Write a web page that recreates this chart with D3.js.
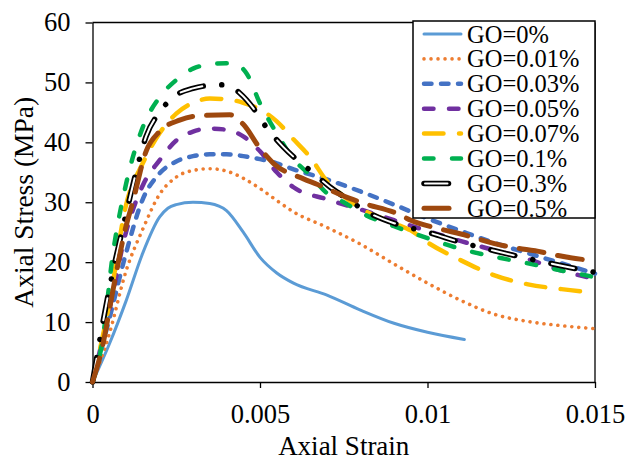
<!DOCTYPE html>
<html>
<head>
<meta charset="utf-8">
<script src="https://cdn.jsdelivr.net/npm/d3@7"></script>
<style>
html,body{margin:0;padding:0;background:#fff;}
svg{display:block;}
</style>
</head>
<body>
<svg id="chart" width="628" height="461"></svg>
<script>
// ---- data (strain, stress MPa) ----
const seriesNames = ["GO=0%","GO=0.01%","GO=0.03%","GO=0.05%","GO=0.07%","GO=0.1%","GO=0.3%","GO=0.5%"];
const go0 = [[0,0],[0.0005,6.3],[0.001,13.5],[0.0015,21.5],[0.002,27.5],[0.00225,29],[0.0025,29.6],[0.003,30],[0.0035,29.8],[0.004,28.6],[0.0045,25],[0.005,20.8],[0.0055,18.2],[0.006,16.5],[0.007,14.5],[0.008,12],[0.009,9.8],[0.010,8.3],[0.0111,7.1]];
const go001 = [[0,0],[0.0005,8],[0.001,18.5],[0.0015,25.5],[0.002,31.3],[0.0025,34.2],[0.003,35.3],[0.0035,35.6],[0.004,35.2],[0.0045,34],[0.005,32.3],[0.0055,30.3],[0.006,28.4],[0.007,25.8],[0.008,23],[0.009,19.7],[0.010,16.5],[0.011,13.6],[0.012,11.3],[0.013,10.1],[0.014,9.4],[0.015,8.9]];
const go003 = [[0,0],[0.0005,10.5],[0.001,21.5],[0.0015,30.5],[0.002,34.8],[0.0025,36.8],[0.003,37.7],[0.0035,38],[0.004,38],[0.0045,37.7],[0.005,37.2],[0.0055,36.5],[0.006,35.5],[0.007,33.8],[0.008,31.8],[0.009,29.6],[0.010,27.3],[0.011,25.2],[0.012,23.2],[0.013,21.5],[0.014,19.8],[0.015,18.1]];
const go005 = [[0,0],[0.0005,12],[0.001,25],[0.0015,32.8],[0.002,37],[0.0025,40.3],[0.003,41.8],[0.0035,42.3],[0.004,42.1],[0.0045,41],[0.005,38.5],[0.0055,35],[0.006,32.5],[0.007,30.5],[0.008,28.8],[0.009,27],[0.010,25.2],[0.011,23.5],[0.012,22],[0.013,20.5],[0.014,18.6],[0.015,17.2]];
const go007 = [[0,0],[0.0005,13],[0.001,29.5],[0.0015,36.5],[0.002,41.5],[0.0025,44.8],[0.003,46.6],[0.0035,47.3],[0.004,47.2],[0.0045,46.6],[0.005,45.5],[0.0055,43.5],[0.006,40.5],[0.0065,37.5],[0.007,33.5],[0.0075,31],[0.008,29],[0.009,26.5],[0.0095,25.3],[0.010,23.3],[0.011,20.3],[0.012,17.8],[0.013,16.3],[0.014,15.5],[0.015,14.9]];
const go01 = [[0,0],[0.0003,7],[0.0006,21],[0.001,33],[0.0015,42.5],[0.002,47.5],[0.0025,50.4],[0.003,52.3],[0.0035,53],[0.004,53.2],[0.0043,53],[0.0046,51.5],[0.005,46.5],[0.0055,41.5],[0.006,37.2],[0.0065,34.5],[0.007,31.5],[0.0075,30],[0.008,28.3],[0.009,26],[0.010,24],[0.011,22.2],[0.012,20.9],[0.013,19.8],[0.014,18.6],[0.015,17.5]];
const go03 = [[0,0],[0.0005,15.5],[0.001,28],[0.0013,35],[0.0016,41],[0.002,45],[0.0025,47.9],[0.003,49],[0.0035,49.5],[0.004,49.6],[0.0044,48.2],[0.0048,45.7],[0.0051,43.2],[0.0057,39.2],[0.0061,37.1],[0.0065,35.3],[0.0071,32.5],[0.0077,30.2],[0.0081,28.7],[0.009,26.5],[0.0095,25.7],[0.010,25],[0.011,23.3],[0.012,21.9],[0.013,20.6],[0.0135,20],[0.014,19.4],[0.015,18.3]];
const go05 = [[0,0],[0.0003,6],[0.0006,15],[0.001,26],[0.0012,30],[0.0016,38.5],[0.002,41.8],[0.0026,43.7],[0.0031,44.4],[0.0041,44.6],[0.0045,43],[0.005,39],[0.0054,36.5],[0.0063,33.9],[0.0067,33],[0.0077,30.6],[0.0081,29.8],[0.0091,28.1],[0.0095,27],[0.0104,25.5],[0.011,24.7],[0.012,23.1],[0.0125,22.5],[0.0134,21.7],[0.0139,21.1],[0.015,20.2]];
const seriesData = [go0, go001, go003, go005, go007, go01, go03, go05];
const xTicks = [0, 0.005, 0.01, 0.015];
const xTickLabels = ["0", "0.005", "0.01", "0.015"];
const yTicks = [0, 10, 20, 30, 40, 50, 60];

// ---- styles ----
const styles = [
  {color:"#5b9bd5", width:3,   dash:null,                  cap:"round"},
  {color:"#ed7d31", width:3.6, dash:"0.01 7",             cap:"round"},
  {color:"#4472c4", width:4.5, dash:"7.5 9.5",            cap:"round"},
  {color:"#7030a0", width:4.5, dash:"9.5 15.5",           cap:"round"},
  {color:"#ffc000", width:4.5, dash:"19.5 15.5",          cap:"round"},
  {color:"#00b050", width:4.5, dash:"9.5 18.5",           cap:"round"},
  {color:"#000000", width:5.5, dash:"24.5 18.5 0.01 18.5",cap:"round", outline:true},
  {color:"#9e480e", width:5,   dash:"25 14",              cap:"round"}
];
const FONT = "'Liberation Serif', 'Times New Roman', serif";

const svg = d3.select("#chart");
const mLeft = 92.5, mRight = 595, mTop = 22.5, mBottom = 382;
const x = d3.scaleLinear().domain([0, 0.015]).range([mLeft, mRight]);
const y = d3.scaleLinear().domain([0, 60]).range([mBottom, mTop]);

// frame
svg.append("line").attr("x1", mLeft).attr("x2", mRight).attr("y1", mTop).attr("y2", mTop).attr("stroke","#000").attr("stroke-width",1.3);
svg.append("line").attr("x1", mRight).attr("x2", mRight).attr("y1", mTop).attr("y2", mBottom).attr("stroke","#000").attr("stroke-width",1.3);

// axes
const xAxis = d3.axisBottom(x).tickValues(xTicks).tickFormat((d,i)=>xTickLabels[i]).tickSize(6).tickSizeOuter(0);
const gx = svg.append("g").attr("transform", `translate(0,${mBottom})`).call(xAxis);
gx.selectAll("text").attr("y", 22).attr("dy", "0.71em");
const yAxis = d3.axisLeft(y).tickValues(yTicks).tickFormat(d3.format("d")).tickSize(7).tickSizeOuter(0);
const gy = svg.append("g").attr("transform", `translate(${mLeft},0)`).call(yAxis);
gy.selectAll("text").attr("x", -22);
[gx, gy].forEach(g => {
  g.attr("font-family", null).attr("font-size", null);
  g.select(".domain").attr("stroke","#000").attr("stroke-width",1.3);
  g.selectAll(".tick line").attr("stroke","#000").attr("stroke-width",1.3);
  g.selectAll("text").attr("fill","#000").style("font-size","26.5px");
});

// axis titles
svg.append("text").attr("x", (mLeft+mRight)/2).attr("y", 455).attr("text-anchor","middle").style("font-size","27px").text("Axial Strain");
svg.append("text").attr("transform", `translate(33,${(mTop+mBottom)/2}) rotate(-90)`).attr("text-anchor","middle").style("font-size","27.5px").text("Axial Stress (MPa)");

// lines
const line = d3.line().x(d => x(d[0])).y(d => y(d[1])).curve(d3.curveMonotoneX);
const plot = svg.append("g");
function drawPath(g, d, st) {
  const p = g.append("path").attr("d", d).attr("fill","none")
    .attr("stroke", st.color).attr("stroke-width", st.width)
    .attr("stroke-linecap", st.cap).attr("stroke-linejoin","round");
  if (st.dash) p.attr("stroke-dasharray", st.dash);
  if (st.outline) {
    g.append("path").attr("d", d).attr("fill","none")
      .attr("stroke", "#fff").attr("stroke-width", 2)
      .attr("stroke-linecap","round").attr("stroke-linejoin","round")
      .attr("stroke-dasharray","22.5 39.01").attr("stroke-dashoffset", -1);
  }
}
seriesData.forEach((data, i) => drawPath(plot, line(data), styles[i]));

// legend
const lg = svg.append("g");
lg.append("rect").attr("x", 413).attr("y", 21).attr("width", 182).attr("height", 197)
  .attr("fill","#fff").attr("stroke","#000").attr("stroke-width",1.5);
seriesNames.forEach((name, i) => {
  const cy = 34 + i * 24.9;
  drawPath(lg, `M424,${cy}L461,${cy}`, styles[i]);
  lg.append("text").attr("x", 467).attr("y", cy).attr("dy", "0.35em").style("font-size","24.5px").text(name);
});

svg.selectAll("text").style("font-family", FONT).attr("fill", "#000");
</script>
</body>
</html>
